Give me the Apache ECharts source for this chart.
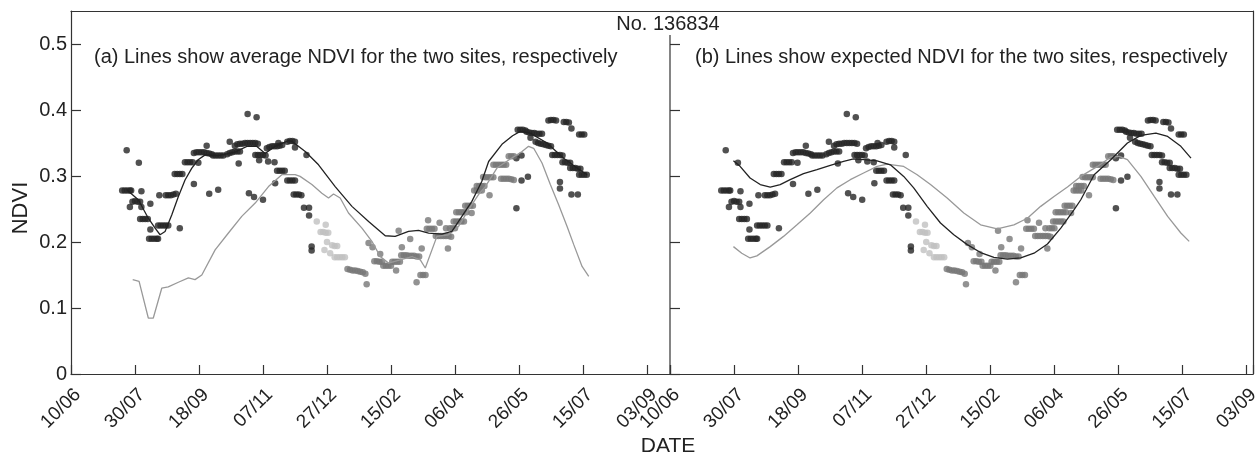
<!DOCTYPE html>
<html>
<head>
<meta charset="utf-8">
<script src="https://cdn.jsdelivr.net/npm/echarts@6/dist/echarts.min.js"></script>
<style>
html,body{margin:0;padding:0;background:#fff;}
#chart{width:1255px;height:457px;}
</style>
</head>
<body>
<div id="chart"></div>
<script>
// x values are days since 10/06
const xTickLabels = ['10/06','30/07','18/09','07/11','27/12','15/02','06/04','26/05','15/07','03/09'];
const yTickLabels = ['0','0.1','0.2','0.3','0.4','0.5'];
const titleText = 'No. 136834';
const panelATitle = '(a) Lines show average NDVI for the two sites, respectively';
const panelBTitle = '(b) Lines show expected NDVI for the two sites, respectively';

// Site 1 observations (dark dots)
const darkDots = [
[43.5,0.339],[53,0.320],
[40,0.278],[42,0.278],[44,0.278],[46,0.278],[47,0.278],
[55,0.277],
[48,0.261],[50,0.262],[52,0.261],[54,0.261],
[46,0.253],[55,0.253],[62,0.258],
[54,0.235],[56,0.235],[58,0.235],[60,0.235],
[62,0.219],
[61,0.205],[63,0.205],[65,0.205],[67,0.205],[68,0.205],
[68,0.225],[70,0.225],[72,0.225],[74,0.225],[76,0.225],
[69,0.271],[74,0.271],[76,0.271],[78,0.271],[80,0.272],[82,0.273],
[85,0.221],
[81,0.303],[83,0.303],[85,0.303],[87,0.303],
[89,0.321],[91,0.321],[93,0.321],[95,0.321],
[96,0.288],[99.5,0.320],
[96,0.335],[98,0.336],[100,0.336],[102,0.336],[104,0.336],[106,0.335],[108,0.334],[110,0.333],
[106,0.346],[108,0.273],[115,0.279],
[111,0.331],[113,0.331],[115,0.331],[117,0.331],[119,0.331],
[124,0.352],
[122,0.333],[124,0.335],[126,0.336],[128,0.337],[130,0.337],[132,0.337],
[131,0.319],
[128,0.346],[130,0.348],[132,0.349],[134,0.349],[136,0.350],[138,0.350],[140,0.350],[142,0.350],[144,0.350],[146,0.349],
[138,0.394],[145,0.389],
[139,0.274],[143,0.268],[150,0.264],
[144,0.332],[146,0.332],[148,0.332],[150,0.332],[152,0.331],
[147,0.324],[154,0.322],[159,0.321],
[153,0.342],[155,0.344],[157,0.345],[159,0.345],[161,0.345],[163,0.346],[165,0.347],[162,0.350],
[159.5,0.289],
[161,0.308],[163,0.308],[165,0.308],[167,0.308],
[169,0.352],[171,0.353],[173,0.353],[175,0.352],
[169,0.293],[171,0.293],[173,0.293],[175,0.293],
[174,0.272],[176,0.272],[178,0.272],[180,0.271],
[175,0.343],[184,0.332],
[182,0.252],[186,0.252],[186,0.240],
[188,0.193],[188,0.187],
[348,0.327],[352,0.331],[348,0.251],[352,0.293],[357,0.299],
[349,0.370],[351,0.370],[353,0.370],[355,0.369],
[356,0.367],[358,0.366],[360,0.365],[362,0.365],[364,0.364],[366,0.364],[368,0.364],
[359,0.358],
[363,0.352],[365,0.350],[367,0.349],[369,0.348],[371,0.347],[373,0.346],[375,0.345],
[373,0.384],[375,0.385],[377,0.385],[379,0.384],
[385,0.382],[387,0.382],[389,0.381],
[391,0.372],
[376,0.332],[378,0.332],[380,0.332],[382,0.332],[384,0.331],
[382,0.291],[382,0.281],
[384,0.321],[386,0.321],[388,0.320],[390,0.320],
[391,0.272],[396,0.272],
[390,0.312],[392,0.312],[394,0.312],[396,0.311],[398,0.311],
[397,0.302],[399,0.302],[401,0.302],[403,0.302],
[397,0.363],[399,0.363],[401,0.363]
];

// light grey observations
const lightDots = [
[192,0.231],[199,0.226],
[195,0.215],[197,0.215],[199,0.214],[201,0.214],
[200,0.200],
[204,0.195],[206,0.194],[208,0.194],
[198,0.188],[202.5,0.183],
[206,0.177],[208,0.177],[210,0.177],[212,0.177],[214,0.177]
];

// Site 2 observations (medium grey dots)
const greyDots = [
[216,0.159],[218,0.158],[220,0.157],[222,0.157],[224,0.156],[226,0.155],[228,0.154],[230,0.152],
[231,0.136],
[232.5,0.1985],[235.6,0.192],
[241.6,0.182],
[237,0.171],[239,0.171],[241,0.170],[243,0.170],
[244,0.164],[246,0.164],[248,0.164],[250,0.164],
[251,0.170],[253,0.170],[255,0.170],[257,0.170],
[254,0.157],[256,0.217],
[258,0.180],[260,0.180],[262,0.180],[264,0.179],[266,0.179],[268,0.179],[270,0.178],[272,0.178],
[258.5,0.192],[265,0.2045],[270,0.139],[274,0.190],
[273,0.150],[275,0.150],[277,0.150],
[279,0.233],
[278,0.220],[280,0.220],[282,0.220],[284,0.220],
[288,0.229],
[285,0.209],[287,0.209],[289,0.209],[291,0.209],[293,0.209],[295,0.209],[297,0.208],
[294.5,0.190],[293,0.221],
[296,0.221],[298,0.221],[300,0.221],
[299,0.231],[301,0.231],[303,0.231],[305,0.231],[307,0.231],
[301,0.245],[303,0.245],[305,0.245],[307,0.245],[309,0.245],
[308,0.255],[310,0.255],[312,0.255],[314,0.255],
[313,0.244],
[315,0.278],[317,0.278],[319,0.278],[321,0.278],
[317,0.285],[319,0.285],[321,0.285],[323,0.285],
[322,0.2985],[324,0.298],[326,0.298],[328,0.298],[330,0.298],
[327,0.271],
[330,0.317],[332,0.317],[334,0.317],[336,0.317],[338,0.317],[340,0.317],
[336,0.296],[338,0.296],[340,0.296],[342,0.296],[344,0.295],[346,0.294],
[342,0.330],[344,0.330],[346,0.330]
];

// (a) average NDVI lines
const avgSite1 = [
[43.5,0.279],[52.6,0.264],[60.4,0.236],[65.7,0.221],[69.6,0.211],[73.5,0.216],[78.7,0.241],[83.9,0.269],[89.1,0.294],[94.4,0.312],[99.6,0.325],[104.8,0.332],[115,0.331],[128,0.336],[137.4,0.345],[145,0.345],[151.7,0.334],[159.5,0.345],[170,0.3535],[172.6,0.3525],[183,0.337],[193.4,0.317],[206.4,0.284],[219.5,0.254],[232.5,0.231],[245.5,0.2095],[253.3,0.2085],[263.7,0.216],[271.5,0.2176],[279.4,0.2136],[289.8,0.212],[297.6,0.216],[305.4,0.2388],[313.2,0.2615],[321,0.292],[326.3,0.322],[336.7,0.348],[345,0.361],[351,0.3676],[358.8,0.365],[371.9,0.350],[384.9,0.327],[395.4,0.312],[403.2,0.302]
];
const avgSite2 = [
[48.2,0.143],[53.2,0.1403],[60.4,0.0848],[64.3,0.0848],[70.9,0.130],[76,0.132],[83.9,0.139],[91.7,0.1455],[96.9,0.143],[102.2,0.150],[112.6,0.188],[123,0.2136],[133.4,0.2388],[143.9,0.259],[154.3,0.284],[164.7,0.302],[175.1,0.302],[179,0.2994],[188.2,0.287],[196,0.274],[201.2,0.2667],[205.1,0.2727],[210.3,0.2667],[216.8,0.244],[227.3,0.221],[235.1,0.201],[241.6,0.178],[248.1,0.168],[257.2,0.173],[266.4,0.178],[272.9,0.173],[276.8,0.1606],[285.9,0.2085],[295,0.211],[302.8,0.2236],[310.6,0.249],[318.4,0.2717],[323.7,0.284],[332.8,0.312],[343.2,0.3258],[352.4,0.337],[357.5,0.345],[361.5,0.342],[368,0.3197],[374.5,0.287],[381,0.2565],[387.6,0.2236],[392.8,0.196],[399.3,0.163],[404.5,0.148]
];

// (b) expected NDVI lines
const expSite1 = [
[49.5,0.323],[54.7,0.3146],[62.5,0.297],[70.4,0.287],[78.2,0.2833],[86,0.287],[93.8,0.2944],[104.2,0.3035],[114.7,0.3095],[125.1,0.316],[135.5,0.322],[143.3,0.3258],[151.1,0.3247],[161.6,0.323],[172,0.317],[182.4,0.2994],[190.2,0.282],[200.7,0.254],[211.1,0.2288],[221.5,0.211],[232,0.196],[242.4,0.184],[252.8,0.1767],[263.3,0.174],[273.7,0.1758],[284.1,0.183],[294.6,0.197],[305,0.221],[315.4,0.249],[320.6,0.264],[331,0.302],[344,0.3247],[357,0.350],[367.5,0.3615],[379.2,0.365],[388.4,0.360],[398.7,0.345],[406.6,0.327]
];
const expSite2 = [
[49.5,0.193],[56,0.183],[62.5,0.1758],[67.8,0.179],[78.2,0.193],[88.6,0.2085],[99.1,0.226],[109.5,0.244],[119.9,0.264],[130.3,0.282],[140.7,0.2944],[151.1,0.3045],[161.6,0.3145],[169.4,0.318],[182.4,0.3145],[192.9,0.302],[203.3,0.287],[216.3,0.2667],[229.3,0.244],[242.4,0.226],[255.4,0.220],[268.4,0.226],[278.9,0.236],[289.3,0.254],[299.7,0.269],[310.2,0.2833],[320.6,0.2994],[333.6,0.3145],[344,0.3288],[350.5,0.3297],[357,0.3247],[367.5,0.2994],[377.9,0.269],[388.4,0.2388],[398.7,0.2136],[405.2,0.201]
];

const FONT = '"Liberation Sans", Arial, sans-serif';
const TXT = '#222';
const AX = '#333';

const chart = echarts.init(document.getElementById('chart'), null, {renderer:'canvas'});

function xAxisFor(gi, maxDay) {
  return {
    type:'value', gridIndex:gi, min:0, max:maxDay, interval:50,
    axisLine:{show:true, lineStyle:{color:AX, width:1.2}},
    axisTick:{show:true, inside:true, length:9, lineStyle:{color:AX, width:1.2}},
    splitLine:{show:false},
    axisLabel:{
      show:true, rotate:45, margin:11, verticalAlign:'top', color:TXT, fontFamily:FONT, fontSize:19,
      showMaxLabel:true, hideOverlap:false,
      formatter:function(v){ return (v % 50 === 0) ? xTickLabels[v/50] : ''; }
    }
  };
}
function topAxisFor(gi, maxDay) {
  return {
    type:'value', gridIndex:gi, position:'top', min:0, max:maxDay,
    axisLine:{show:true, onZero:false, lineStyle:{color:AX, width:1.2}},
    axisTick:{show:false}, axisLabel:{show:false}, splitLine:{show:false}
  };
}
function yAxisFor(gi, showLabels, showLine) {
  return {
    type:'value', gridIndex:gi, min:0, max:0.55, interval:0.1,
    axisLine:{show:showLine, onZero:false, lineStyle:{color:AX, width:1.2}},
    axisTick:{show:true, inside:true, length:10, lineStyle:{color:AX, width:1.2}},
    splitLine:{show:false},
    axisLabel:{
      show:showLabels, margin:4, color:TXT, fontFamily:FONT, fontSize:20,
      showMaxLabel:false,
      formatter:function(v){ const k = Math.round(v*10); return Math.abs(v*10-k) < 1e-6 ? yTickLabels[k] : ''; }
    }
  };
}
function rightAxisFor(gi) {
  return {
    type:'value', gridIndex:gi, position:'right', min:0, max:0.55,
    axisLine:{show:true, onZero:false, lineStyle:{color:AX, width:1.2}},
    axisTick:{show:false}, axisLabel:{show:false}, splitLine:{show:false}
  };
}

function dotSeries(data, color, xi) {
  return {type:'scatter', xAxisIndex:xi, yAxisIndex:xi, data:data, symbol:'circle', symbolSize:6.5,
          itemStyle:{color:color}, silent:true, z:2};
}
function lineSeries(data, color, xi) {
  return {type:'line', xAxisIndex:xi, yAxisIndex:xi, data:data, showSymbol:false, symbol:'none',
          lineStyle:{color:color, width:1.3}, silent:true, z:3, smooth:false};
}

const option = {
  animation:false,
  backgroundColor:'#fff',
  grid:[
    {left:71, top:11, width:599, height:363, show:false, outerBoundsMode:'none', containLabel:false},
    {left:670, top:11, width:583, height:363, show:false, outerBoundsMode:'none', containLabel:false}
  ],
  xAxis:[ xAxisFor(0, 468), xAxisFor(1, 455), topAxisFor(0, 468), topAxisFor(1, 455) ],
  yAxis:[ yAxisFor(0, true, true), yAxisFor(1, false, false), rightAxisFor(1) ],
  graphic:[
    {type:'line', z:5, shape:{x1:670, y1:35, x2:670, y2:374}, style:{stroke:AX, lineWidth:1.2}},
    {type:'text', x:668, y:24, z:11, style:{text:titleText, fill:TXT, font:'20px "Liberation Sans", Arial, sans-serif', textAlign:'center', textVerticalAlign:'middle'}},
    {type:'text', x:94, y:57, z:10, style:{text:panelATitle, fill:TXT, font:'20px "Liberation Sans", Arial, sans-serif', textAlign:'left', textVerticalAlign:'middle'}},
    {type:'text', x:695, y:57, z:10, style:{text:panelBTitle, fill:TXT, font:'20px "Liberation Sans", Arial, sans-serif', textAlign:'left', textVerticalAlign:'middle'}},
    {type:'text', x:21, y:208, rotation:Math.PI/2, z:10, style:{text:'NDVI', fill:TXT, font:'22px "Liberation Sans", Arial, sans-serif', textAlign:'center', textVerticalAlign:'middle'}},
    {type:'text', x:668, y:446, z:10, style:{text:'DATE', fill:TXT, font:'21px "Liberation Sans", Arial, sans-serif', textAlign:'center', textVerticalAlign:'middle'}}
  ],
  series:[
    dotSeries(darkDots, '#262626', 0),
    dotSeries(greyDots, '#777777', 0),
    dotSeries(lightDots, '#c0c0c0', 0),
    lineSeries(avgSite2, '#999999', 0),
    lineSeries(avgSite1, '#222222', 0),
    dotSeries(darkDots, '#262626', 1),
    dotSeries(greyDots, '#777777', 1),
    dotSeries(lightDots, '#c0c0c0', 1),
    lineSeries(expSite2, '#999999', 1),
    lineSeries(expSite1, '#222222', 1)
  ]
};
chart.setOption(option);
</script>
</body>
</html>
